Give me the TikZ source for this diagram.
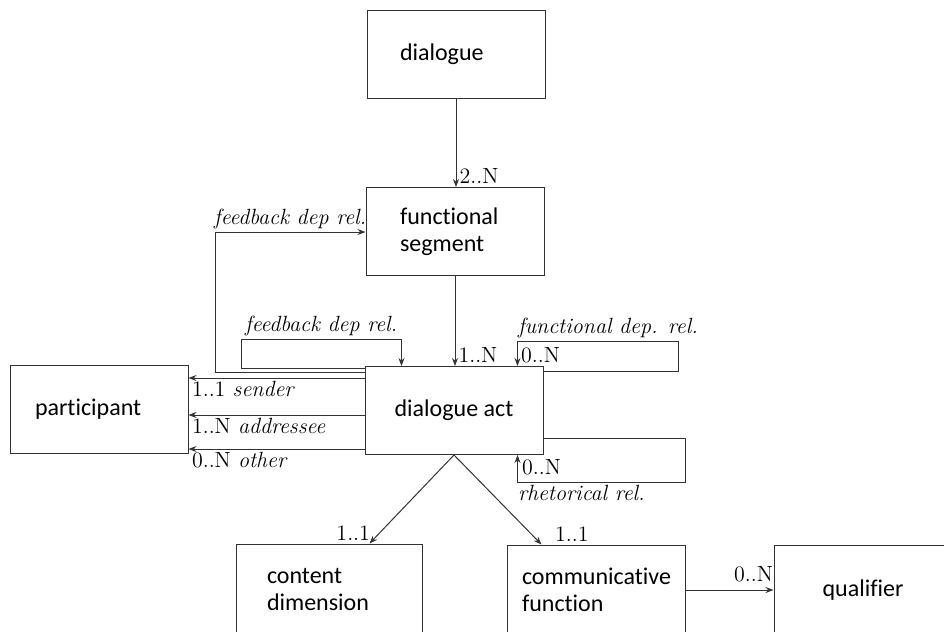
\documentclass[tikz,border=0pt]{standalone}
\usepackage{fontspec}
\setsansfont{Carlito}[Ligatures=NoCommon]
\usetikzlibrary{arrows.meta,calc}
\definecolor{LineClr}{rgb}{0.2,0.2,0.2}

\begin{document}
\begin{tikzpicture}[x=0.5pt,y=-0.5pt,
  ent/.style={draw=LineClr,line width=0.5pt,minimum width=89pt,minimum height=44pt,
    font=\sffamily\fontsize{12}{13.5}\selectfont,align=left},
  conn/.style={draw=LineClr,line width=0.5pt,-{Stealth[length=4pt,width=3pt]}},
  lbl/.style={font=\fontsize{11}{12.5}\selectfont,inner sep=1.5pt}]
\useasboundingbox (0,0) rectangle (944,632);

\node[ent,text width=56pt,inner xsep=16.5pt] (dia) at (456,54) {dialogue};
\node[ent,text width=55pt,inner xsep=17pt] (seg) at (455,231.5) {functional\\segment};
\node[ent,align=center] (act) at (454,410.5) {dialogue act};
\node[ent,text width=64pt,inner xsep=12.5pt] (part) at (99,409) {participant};
\node[ent,minimum height=45pt,text width=62pt,inner xsep=15.5pt] (cont) at (329,589) {content\\dimension};
\node[ent,minimum height=45pt,text width=74pt,inner xsep=7.5pt] (fun) at (596,590) {communicative\\function};
\node[ent,minimum height=45pt,align=center] (qual) at (863,590) {qualifier};

\draw[conn] (dia.south) -- (dia.south |- seg.north) node[lbl,anchor=south west]{2..N};
\draw[conn] (seg.south) -- (seg.south |- act.north) node[lbl,anchor=south west]{1..N};

\coordinate (fbup) at (215,232);
\coordinate (fblow) at (241,339);
\coordinate (fbin) at ($(act.north west)+(37,0)$);
\coordinate (fbout1) at ([yshift=-3pt]act.north west);
\coordinate (fbout2) at ([yshift=-1pt]act.north west);
\draw[conn] (fbout1) -| (fbup) -- node[lbl,above]{\textit{feedback dep rel.}} (fbup -| seg.west);
\draw[conn] (fbout2) -| (fblow) -- node[lbl,above]{\textit{feedback dep rel.}} (fblow -| fbin) -- (fbin);

\coordinate (sd) at ([yshift=-6pt]act.north west);
\coordinate (ad) at ([yshift=-2.25pt]act.west);
\coordinate (ot) at ([yshift=3pt]act.south west);
\draw[conn] (sd) -- (sd -| part.east) node[lbl,anchor=north west]{1..1 \textit{sender}};
\draw[conn] (ad) -- (ad -| part.east) node[lbl,anchor=north west]{1..N \textit{addressee}};
\draw[conn] (ot) -- (ot -| part.east) node[lbl,anchor=north west]{0..N \textit{other}};

\coordinate (fdout) at ([yshift=-2.5pt]act.north east);
\coordinate (fdc) at (678,341);
\coordinate (fdin) at ($(act.north east)+(-26,0)$);
\draw[conn] (fdout) -| (fdc) -- (fdc -| fdin) node[lbl,anchor=south west,inner xsep=0pt]{\textit{functional dep. rel.}}
  -- (fdin) node[lbl,anchor=south west]{0..N};

\coordinate (rhout) at ([yshift=8.5pt]act.south east);
\coordinate (rhc) at (685,482);
\coordinate (rhin) at ($(act.south east)+(-26,0)$);
\draw[conn] (rhout) -| (rhc) -- (rhc -| rhin) node[lbl,anchor=north west,inner xsep=0pt]{\textit{rhetorical rel.}}
  -- (rhin) node[lbl,anchor=north west,inner sep=2pt]{0..N};

\draw[conn] (act.south) -- ($(cont.north west)+(134,0)$) node[lbl,anchor=south east,xshift=2pt]{1..1};
\draw[conn] (act.south) -- ($(fun.north west)+(35,0)$) node[lbl,anchor=south west,xshift=5pt]{1..1};
\draw[conn] (fun.east) -- (fun.east -| qual.west) node[lbl,anchor=south east,inner xsep=0pt,inner ysep=4pt]{0..N};

\end{tikzpicture}
\end{document}
